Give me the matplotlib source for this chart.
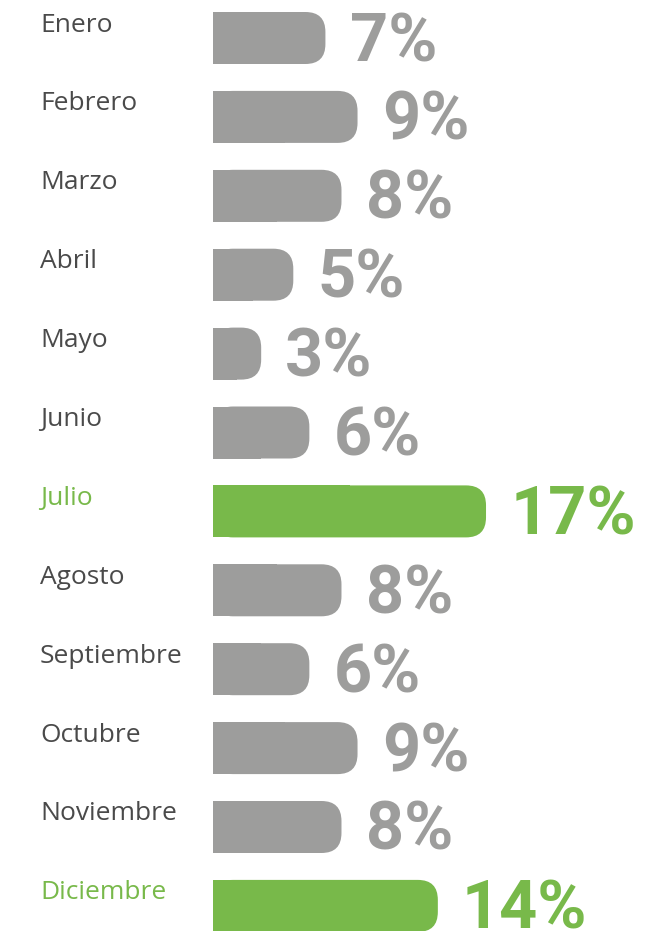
import matplotlib.pyplot as plt
from matplotlib.patches import FancyBboxPatch, Rectangle

# datos
meses = ['Enero', 'Febrero', 'Marzo', 'Abril', 'Mayo', 'Junio', 'Julio',
         'Agosto', 'Septiembre', 'Octubre', 'Noviembre', 'Diciembre']
valores = [7, 9, 8, 5, 3, 6, 17, 8, 6, 9, 8, 14]
destacados = ['Julio', 'Diciembre']

gris = '#9d9d9c'
verde = '#78b94a'
texto_gris = '#4a4a4a'

W, H = 668, 931
px_x = 16.06      # pixeles por punto porcentual
px_y = 78.9       # pixeles entre barras
x_barra = 213     # inicio de las barras (px)
y_primera = 38    # centro de la primera barra (px)
alto = 52 / px_y
radio = 20 / px_x
aspecto = (20 / px_y) / radio

fig = plt.figure(figsize=(W / 100, H / 100), dpi=100)
ax = fig.add_axes([0, 0, 1, 1])
ax.set_xlim(-x_barra / px_x, (W - x_barra) / px_x)
ax.set_ylim((H - y_primera) / px_y, -y_primera / px_y)
ax.axis('off')

for i, (mes, v) in enumerate(zip(meses, valores)):
    color = verde if mes in destacados else gris
    # barra con esquinas redondeadas solo a la derecha
    caja = FancyBboxPatch((0, i - alto / 2), v, alto,
                          boxstyle=f'round,pad=0,rounding_size={radio}',
                          mutation_aspect=aspecto, fc=color, ec='none', lw=0)
    ax.add_patch(caja)
    ax.add_patch(Rectangle((0, i - alto / 2), v / 2, alto, fc=color, ec='none', lw=0))

    ax.text(-173 / px_x, i - 13 / px_y, mes, ha='left', va='center',
            fontsize=19, color=verde if mes in destacados else texto_gris,
            family=['Open Sans', 'DejaVu Sans'])
    ax.text(v + 1.5, i - 2 / px_y, f'{v}%', ha='left', va='center_baseline',
            fontsize=48, fontweight='bold', color=color,
            family=['Roboto', 'DejaVu Sans'])

fig.savefig('out.png', dpi=100)
